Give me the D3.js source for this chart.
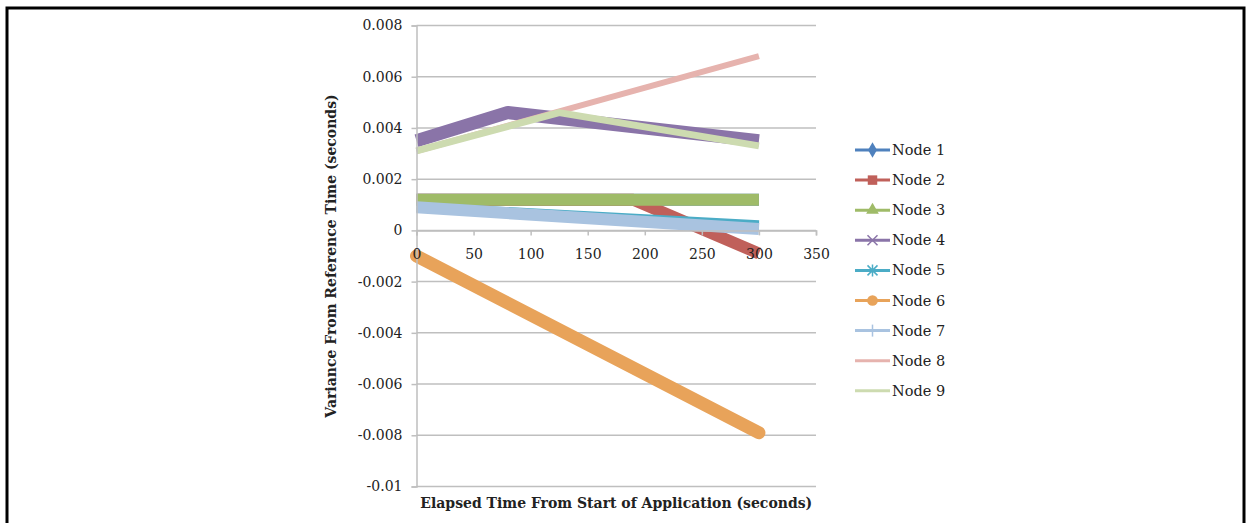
<!DOCTYPE html>
<html>
<head>
<meta charset="utf-8">
<script src="https://cdn.jsdelivr.net/npm/d3@7"></script>
<style>
  body { margin: 0; background: #fff; }
  text { font-family: "DejaVu Serif", serif; fill: #222; }
</style>
</head>
<body>
<div id="chart"></div>
<script>
// series names and values (x = seconds, y = variance in seconds)
var nodeNames = ["Node 1", "Node 2", "Node 3", "Node 4", "Node 5", "Node 6", "Node 7", "Node 8", "Node 9"];
var node1 = [[0, 0.0012], [300, 0.0012]];
var node2 = [[0, 0.0012], [190, 0.0012], [300, -0.0009]];
var node3 = [[0, 0.0012], [300, 0.0012]];
var node4 = [[0, 0.0035], [80, 0.0046], [300, 0.0035]];
var node5 = [[0, 0.0009], [300, 0.0002]];
var node6 = [[0, -0.001], [300, -0.0079]];
var node7 = [[0, 0.0009], [300, 0.00005]];
var node8 = [[0, 0.0031], [300, 0.0068]];
var node9 = [[0, 0.0031], [125, 0.0046], [300, 0.0033]];
var allNodes = [node1, node2, node3, node4, node5, node6, node7, node8, node9];

var xTicks = [0, 50, 100, 150, 200, 250, 300, 350];
var yTicks = [0.008, 0.006, 0.004, 0.002, 0, -0.002, -0.004, -0.006, -0.008, -0.01];

var colors = ["#4f81bd", "#c0605a", "#9fbb68", "#8a74a8", "#4bacc6", "#e8a35a", "#a9c3e0", "#e6b3ae", "#cddbb0"];
var widths = [12, 12, 12, 13, 10, 13, 12, 6, 7];
var markers = ["diamond", "square", "triangle", "x", "star", "circle", "plus", "none", "none"];

var W = 1252, H = 523;
var svg = d3.select("#chart").append("svg")
  .attr("width", W).attr("height", H);

// frame around the picture
svg.append("path")
  .attr("d", "M7,523 V8 H1244 V523")
  .attr("fill", "none").attr("stroke", "#000").attr("stroke-width", 3);

var x = d3.scaleLinear().domain([0, 350]).range([416.5, 816]);
var y = d3.scaleLinear().domain([-0.01, 0.008]).range([486.5, 25.5]);

// gridlines
svg.append("g").selectAll("line")
  .data(yTicks)
  .enter().append("line")
    .attr("x1", x(0)).attr("x2", x(350))
    .attr("y1", function(d){ return y(d); })
    .attr("y2", function(d){ return y(d); })
    .attr("stroke", "#bfbfbf").attr("stroke-width", 1.5);

// lines
var line = d3.line()
  .x(function(d){ return x(d[0]); })
  .y(function(d){ return y(d[1]); });

var linesG = svg.append("g");

// y axis
var yAxis = svg.append("g")
  .attr("transform", "translate(" + x(0) + ",0)")
  .call(d3.axisLeft(y).tickValues(yTicks).tickSize(5).tickPadding(9)
    .tickFormat(function(d){ return d === 0 ? "0" : String(+d.toFixed(3)); }));
yAxis.select(".domain").attr("stroke", "#bfbfbf").attr("stroke-width", 1.5);
yAxis.selectAll(".tick line").attr("stroke", "#bfbfbf").attr("stroke-width", 1.5);
yAxis.selectAll("text").style("font-family", "DejaVu Serif").style("font-size", "14px").attr("fill", "#222");

// x axis at y = 0
var xAxis = svg.append("g")
  .attr("transform", "translate(0," + y(0) + ")")
  .call(d3.axisBottom(x).tickValues(xTicks).tickSize(5).tickPadding(14));
xAxis.select(".domain").attr("stroke", "#bfbfbf").attr("stroke-width", 1.5);
xAxis.selectAll(".tick line").attr("stroke", "#bfbfbf").attr("stroke-width", 1.5);
xAxis.selectAll("text").style("font-family", "DejaVu Serif").style("font-size", "14px").attr("fill", "#222");

linesG.selectAll("path")
  .data(allNodes)
  .enter().append("path")
    .attr("d", line)
    .attr("fill", "none")
    .attr("stroke", function(d, i){ return colors[i]; })
    .attr("stroke-width", function(d, i){ return widths[i]; })
    .attr("stroke-linecap", function(d, i){ return i === 5 ? "round" : "butt"; })
    .attr("stroke-linejoin", "round");

// axis titles
svg.append("text")
  .attr("x", (x(0) + x(350)) / 2).attr("y", 508)
  .attr("text-anchor", "middle")
  .style("font-size", "14px").style("font-weight", "bold")
  .text("Elapsed Time From Start of Application (seconds)");

svg.append("text")
  .attr("transform", "translate(336," + ((y(0.008) + y(-0.01)) / 2) + ") rotate(-90)")
  .attr("text-anchor", "middle")
  .style("font-size", "14px").style("font-weight", "bold")
  .text("Variance From Reference Time (seconds)");

// marker shapes
function drawMarker(g, type, color, s) {
  if (type === "diamond") g.append("path").attr("d", d3.symbol(d3.symbolDiamond, s * 14)()).attr("fill", color);
  if (type === "square") g.append("path").attr("d", d3.symbol(d3.symbolSquare, s * 18)()).attr("fill", color);
  if (type === "triangle") g.append("path").attr("d", d3.symbol(d3.symbolTriangle, s * 14)()).attr("fill", color);
  if (type === "circle") g.append("path").attr("d", d3.symbol(d3.symbolCircle, s * 18)()).attr("fill", color);
  if (type === "x") g.append("path").attr("d", "M-5,-5L5,5M-5,5L5,-5").attr("stroke", color).attr("stroke-width", 1.5);
  if (type === "star") g.append("path").attr("d", "M-5,-5L5,5M-5,5L5,-5M0,-6V6").attr("stroke", color).attr("stroke-width", 1.5);
  if (type === "plus") g.append("path").attr("d", "M0,-6V6").attr("stroke", color).attr("stroke-width", 1.5);
}

// legend
var legend = svg.append("g");
nodeNames.forEach(function(name, i) {
  var ly = 150 + i * 30.1;
  var g = legend.append("g").attr("transform", "translate(0," + ly + ")");
  g.append("line")
    .attr("x1", 855).attr("x2", 890).attr("y1", 0).attr("y2", 0)
    .attr("stroke", colors[i]).attr("stroke-width", 3);
  drawMarker(g.append("g").attr("transform", "translate(872.5,0)"), markers[i], colors[i], 5);
  g.append("text")
    .attr("x", 892).attr("y", 5)
    .style("font-size", "14.5px")
    .text(name);
});
</script>
</body>
</html>
